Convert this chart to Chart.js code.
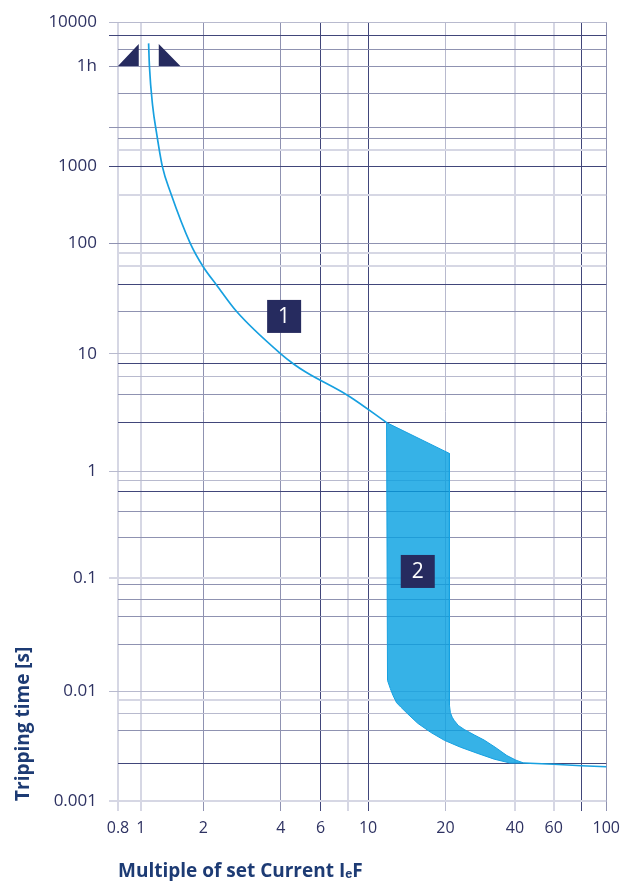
<!DOCTYPE html>
<html>
<head>
<meta charset="utf-8">
<script src="https://cdn.jsdelivr.net/npm/chart.js@4.4.0/dist/chart.umd.min.js"></script>
<style>
  html, body { margin: 0; padding: 0; background: #fff; }
  canvas { display: block; }
</style>
</head>
<body>
<canvas id="tripChart" width="628" height="881"></canvas>
<script>
// x = multiple of set current, y = tripping time in seconds
const currentGrid = [0.8, 1, 2, 4, 6, 8, 10, 20, 40, 60, 80, 100];
const currentTicks = [0.8, 1, 2, 4, 6, 10, 20, 40, 60, 100];
const timeGrid = [0.001, 0.0022, 0.0044, 0.0063, 0.0083, 0.01, 0.026, 0.046, 0.065, 0.087, 0.1,
  0.24, 0.42, 0.65, 0.82, 1, 2.6, 4.5, 6.4, 8.2, 10, 24, 42, 62, 81, 100, 430, 1000,
  1240, 1430, 1640, 2550, 3600, 5300, 7400, 10000];
const timeTicks = [0.001, 0.01, 0.1, 1, 10, 100, 1000, 3600, 10000];
const timeTickLabels = ['0.001', '0.01', '0.1', '1', '10', '100', '1000', '1h', '10000'];

// curve 1 - overload release
const curve1Current = [1.09, 1.10, 1.14, 1.19, 1.27, 1.39, 1.73, 2.0, 2.25, 2.7, 4.0, 4.56, 5.16, 8.0, 11.8];
const curve1Time = [6100, 3600, 2170, 1540, 1000, 460, 100, 61, 42, 24, 10, 8.2, 7.0, 4.4, 2.6];

// band 2 - short circuit release, outline going round clockwise
const band2Current = [11.8, 20.8, 20.8, 21.0, 21.4, 21.8, 22.7, 24.1, 26.7, 29.4, 32.8, 36.9, 40.4, 43.9,
  38.1, 32.5, 27.4, 23.2, 19.8, 17.5, 15.6, 14.3, 13.4, 12.9, 12.5, 12.2, 11.9, 11.8];
const band2Time = [2.6, 1.42, 0.0075, 0.0064, 0.0058, 0.00545, 0.0049, 0.0045, 0.004, 0.0036, 0.0031, 0.0026, 0.00236, 0.00222,
  0.00222, 0.00241, 0.00273, 0.0031, 0.00358, 0.00424, 0.00512, 0.0062, 0.0072, 0.0079, 0.0092, 0.0106, 0.0125, 2.6];

// tail after band 2
const tailCurrent = [43.9, 60, 80, 100];
const tailTime = [0.00222, 0.00216, 0.0021, 0.00205];

// non-trip / trip markers at 1h
const markLeftCurrent = [0.8, 0.98, 0.98];
const markLeftTime = [3600, 6000, 3600];
const markRightCurrent = [1.22, 1.22, 1.55];
const markRightTime = [6000, 3600, 3600];

// numbered boxes
const boxText = ['1', '2'];
const boxCurrent = [4.14, 15.6];
const boxTime = [21.8, 0.115];

// the printed grid is not evenly logarithmic, every decade has its own length
const axisWarp = {
  x: { values: [0.8, 1, 2, 4, 6, 8, 10, 20, 40, 60, 80, 100], at: [0, 23, 86, 164, 204, 232, 252, 330, 400, 439, 467, 492] },
  y: { values: [0.001, 0.01, 0.1, 1, 10, 100, 1000, 3600, 10000], at: [0, 110, 224, 331, 449, 560, 637, 738, 782] }
};

class WarpLogScale extends Chart.Scale {
  static id = 'warpLog';
  static defaults = {};
  determineDataLimits() {
    const w = axisWarp[this.id];
    this.min = w.values[0];
    this.max = w.values[w.values.length - 1];
  }
  buildTicks() {
    return (this.id === 'x' ? currentGrid : timeGrid).map(v => ({ value: v }));
  }
  getLabelForValue(v) { return String(v); }
  toDecimal(v) {
    const { values, at } = axisWarp[this.id];
    let i = 0;
    while (i < values.length - 2 && v > values[i + 1]) i++;
    const l0 = Math.log10(values[i]), l1 = Math.log10(values[i + 1]);
    const t = (Math.log10(v) - l0) / (l1 - l0);
    return (at[i] + t * (at[i + 1] - at[i])) / at[at.length - 1];
  }
  getPixelForValue(v) { return this.getPixelForDecimal(this.toDecimal(v)); }
  getValueForPixel(p) {
    const { values, at } = axisWarp[this.id];
    const d = this.getDecimalForPixel(p) * at[at.length - 1];
    let i = 0;
    while (i < at.length - 2 && d > at[i + 1]) i++;
    const t = (d - at[i]) / (at[i + 1] - at[i]);
    const l0 = Math.log10(values[i]), l1 = Math.log10(values[i + 1]);
    return Math.pow(10, l0 + t * (l1 - l0));
  }
}
Chart.register(WarpLogScale);

// grid line looks
const lineStyles = {
  dark: ['#41467a', 1],
  mid: ['#8f92b1', 1],
  soft: ['#b8bace', 1],
  pale: ['#d6d7e4', 2]
};
const currentGridTier = { 0.8: 'pale', 1: 'pale', 2: 'mid', 4: 'mid', 6: 'dark', 8: 'pale', 10: 'dark',
  20: 'soft', 40: 'pale', 60: 'pale', 80: 'dark', 100: 'mid' };
const timeGridTier = { 0.001: 'pale', 0.0022: 'dark', 0.0044: 'mid', 0.0063: 'soft', 0.0083: 'pale', 0.01: 'soft',
  0.026: 'mid', 0.046: 'mid', 0.065: 'mid', 0.087: 'mid', 0.1: 'pale', 0.24: 'mid', 0.42: 'mid', 0.65: 'dark',
  0.82: 'soft', 1: 'soft', 2.6: 'dark', 4.5: 'mid', 6.4: 'soft', 8.2: 'dark', 10: 'soft', 24: 'mid', 42: 'dark',
  62: 'pale', 81: 'pale', 100: 'mid', 430: 'pale', 1000: 'dark', 1240: 'pale', 1430: 'mid', 1640: 'mid',
  2550: 'mid', 3600: 'mid', 5300: 'mid', 7400: 'dark', 10000: 'soft' };
const timeTickMarks = timeTicks.concat([7400, 1640]);

const tierOf = (table, c) => lineStyles[(c.tick && table[c.tick.value]) || 'soft'];

const labelColor = '#2e3262';
const titleColor = '#1d3b74';
const navy = '#262b5f';
const blue = '#17a0e0';

const pts = (xs, ys) => xs.map((x, i) => ({ x: x, y: ys[i] }));

const numberBoxes = {
  id: 'numberBoxes',
  afterDatasetsDraw(chart) {
    const { ctx, scales } = chart;
    ctx.save();
    boxText.forEach((txt, i) => {
      const cx = scales.x.getPixelForValue(boxCurrent[i]);
      const cy = scales.y.getPixelForValue(boxTime[i]);
      ctx.fillStyle = navy;
      ctx.fillRect(cx - 17, cy - 16.5, 34, 33);
      ctx.fillStyle = '#ffffff';
      ctx.font = '21px "Open Sans", sans-serif';
      ctx.textAlign = 'center';
      ctx.textBaseline = 'middle';
      ctx.fillText(txt, cx, cy + 1);
    });
    ctx.restore();
  }
};

new Chart(document.getElementById('tripChart'), {
  type: 'line',
  data: {
    datasets: [
      {
        data: pts(curve1Current, curve1Time),
        borderColor: blue,
        borderWidth: 1.7,
        pointRadius: 0,
        cubicInterpolationMode: 'monotone',
        fill: false
      },
      {
        data: pts(tailCurrent, tailTime),
        borderColor: blue,
        borderWidth: 1.5,
        pointRadius: 0,
        fill: false
      },
      {
        data: pts(band2Current, band2Time),
        borderColor: blue,
        borderWidth: 1,
        backgroundColor: 'rgba(4,159,225,0.8)',
        pointRadius: 0,
        tension: 0,
        fill: 'shape'
      },
      {
        data: pts(markLeftCurrent, markLeftTime),
        borderColor: 'rgba(0,0,0,0)',
        backgroundColor: navy,
        pointRadius: 0,
        fill: 'shape'
      },
      {
        data: pts(markRightCurrent, markRightTime),
        borderColor: 'rgba(0,0,0,0)',
        backgroundColor: navy,
        pointRadius: 0,
        fill: 'shape'
      }
    ]
  },
  options: {
    responsive: false,
    animation: false,
    layout: { padding: { left: 0, right: 18, top: 19, bottom: 0 } },
    plugins: {
      legend: { display: false },
      tooltip: { enabled: false }
    },
    scales: {
      x: {
        type: 'warpLog',
        position: 'bottom',
        afterFit: s => { s.height = 80; },
        border: { display: false },
        grid: {
          color: c => tierOf(currentGridTier, c)[0],
          lineWidth: c => tierOf(currentGridTier, c)[1],
          tickLength: 10
        },
        ticks: {
          autoSkip: false,
          maxRotation: 0,
          minRotation: 0,
          padding: 8,
          color: labelColor,
          font: { family: "'Open Sans', sans-serif", size: 16 },
          callback: v => currentTicks.includes(v) ? String(v) : ''
        },
        title: {
          display: true,
          text: 'Multiple of set Current I\u2091F',
          align: 'start',
          color: titleColor,
          font: { family: "'Open Sans', sans-serif", size: 19, weight: 'bold', lineHeight: 1 },
          padding: 0
        }
      },
      y: {
        type: 'warpLog',
        position: 'left',
        afterFit: s => { s.width = 118; },
        border: { display: false },
        grid: {
          color: c => tierOf(timeGridTier, c)[0],
          lineWidth: c => tierOf(timeGridTier, c)[1],
          tickColor: c => (c.tick && timeTickMarks.includes(c.tick.value)) ? tierOf(timeGridTier, c)[0] : 'rgba(0,0,0,0)',
          tickLength: 9
        },
        ticks: {
          autoSkip: false,
          padding: 12,
          color: labelColor,
          font: { family: "'Open Sans', sans-serif", size: 17 },
          callback: v => {
            const i = timeTicks.indexOf(v);
            return i < 0 ? '' : timeTickLabels[i];
          }
        },
        title: {
          display: true,
          text: 'Tripping time [s]',
          align: 'start',
          color: titleColor,
          font: { family: "'Open Sans', sans-serif", size: 19, weight: 'bold' },
          padding: { top: 12, bottom: 0 }
        }
      }
    }
  },
  plugins: [numberBoxes]
});
</script>
</body>
</html>
